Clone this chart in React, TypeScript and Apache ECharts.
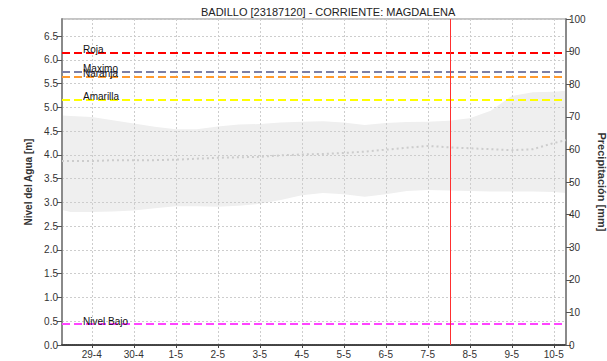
import React, { useEffect, useRef } from "react";
import * as echarts from "echarts";

const title = "BADILLO [23187120] - CORRIENTE: MAGDALENA";
const leftAxisName = "Nivel del Agua [m]";
const rightAxisName = "Precipitación [mm]";

const times = [
  "2024-04-28 07:00", "2024-04-28 12:00", "2024-04-29 00:00", "2024-04-29 12:00",
  "2024-04-30 00:00", "2024-04-30 12:00", "2024-05-01 00:00", "2024-05-01 12:00",
  "2024-05-02 00:00", "2024-05-02 12:00", "2024-05-03 00:00", "2024-05-03 12:00",
  "2024-05-04 00:00", "2024-05-04 12:00", "2024-05-05 00:00", "2024-05-05 12:00",
  "2024-05-06 00:00", "2024-05-06 12:00", "2024-05-07 00:00", "2024-05-07 12:00",
  "2024-05-08 00:00", "2024-05-08 12:00", "2024-05-09 00:00", "2024-05-09 12:00",
  "2024-05-10 00:00", "2024-05-10 07:00",
];

const bandUpper = [
  4.83, 4.82, 4.8, 4.73, 4.66, 4.59, 4.54, 4.54, 4.6, 4.64, 4.65, 4.68, 4.7,
  4.71, 4.68, 4.63, 4.67, 4.69, 4.7, 4.72, 4.77, 4.93, 5.24, 5.32, 5.33, 5.35,
];
const bandLower = [
  2.84, 2.8, 2.8, 2.81, 2.83, 2.88, 2.92, 2.92, 2.91, 2.93, 2.97, 3.05, 3.15,
  3.2, 3.17, 3.12, 3.17, 3.24, 3.26, 3.25, 3.24, 3.23, 3.23, 3.23, 3.22, 3.2,
];
const meanLevel = [
  3.87, 3.87, 3.87, 3.89, 3.89, 3.89, 3.9, 3.92, 3.94, 3.95, 3.96, 3.99, 4.01,
  4.02, 4.04, 4.07, 4.11, 4.15, 4.19, 4.16, 4.14, 4.12, 4.1, 4.12, 4.25, 4.31,
];

const thresholdNames = ["Roja", "Maximo", "Naranja", "Amarilla", "Nivel Bajo"];
const thresholdValues = [6.15, 5.76, 5.64, 5.16, 0.44];
const thresholdColors = ["#ff0000", "#7b7fa6", "#ff9a2e", "#ffff00", "#ff44ff"];

const xMin = "2024-04-28 07:00";
const xMax = "2024-05-10 07:00";
const nowTime = "2024-05-07 13:00";

const FONT = "'Liberation Sans', Arial, sans-serif";

export default function App() {
  const ref = useRef<HTMLDivElement>(null);
  useEffect(() => {
    if (!ref.current) return;
    const chart = echarts.init(ref.current, null, { renderer: "svg" });
    const lowerData = times.map((t, i) => [t, bandLower[i]]);
    const diffData = times.map((t, i) => [t, +(bandUpper[i] - bandLower[i]).toFixed(3)]);
    const meanData = times.map((t, i) => [t, meanLevel[i]]);

    const markData: any[] = thresholdNames.map((n, i) => ({
      name: n,
      yAxis: thresholdValues[i],
      lineStyle: { color: thresholdColors[i], type: [8, 4], width: 2 },
    }));
    markData.push({
      name: "",
      xAxis: nowTime,
      lineStyle: { color: "#ff3030", type: "solid", width: 1 },
      label: { show: false },
    });

    chart.setOption({
      animation: false,
      textStyle: { fontFamily: FONT },
      title: {
        text: title,
        left: 196,
        top: 1,
        textStyle: { fontSize: 11, fontWeight: "normal", color: "#222", fontFamily: FONT },
      },
      grid: {
        left: 62,
        right: 41,
        top: 19,
        bottom: 16,
        show: true,
        borderColor: "#8a8a8a",
        borderWidth: 1,
        outerBoundsMode: "none",
      },
      xAxis: {
        type: "time",
        min: xMin,
        max: xMax,
        minInterval: 86400000,
        maxInterval: 86400000,
        z: 2,
        axisLine: { show: true, lineStyle: { color: "#444", width: 2, type: [1, 1] } },
        axisTick: { show: true, length: 3, lineStyle: { color: "#444" } },
        axisLabel: {
          fontSize: 10,
          color: "#333",
          margin: 4,
          showMinLabel: false,
          showMaxLabel: false,
          hideOverlap: false,
          formatter: (v: number) => {
            const d = new Date(v);
            return d.getDate() + "-" + (d.getMonth() + 1);
          },
        },
        splitLine: { show: true, lineStyle: { color: "#cdcdcd", type: [2, 2], width: 1 } },
      },
      yAxis: [
        {
          type: "value",
          min: 0,
          max: 6.86,
          interval: 0.5,
          z: 2,
          name: leftAxisName,
          nameLocation: "middle",
          nameRotate: 90,
          nameGap: 24,
          nameTextStyle: { fontSize: 10, fontWeight: "bold", color: "#333", fontFamily: FONT },
          axisLine: { show: true, lineStyle: { color: "#8a8a8a", width: 2 } },
          axisTick: { show: true, length: 5, lineStyle: { color: "#555" } },
          axisLabel: {
            fontSize: 10,
            color: "#333",
            margin: 4,
            showMaxLabel: false,
            formatter: (v: number) => v.toFixed(1),
          },
          splitLine: { show: true, lineStyle: { color: "#cdcdcd", type: [2, 2], width: 1 } },
        },
        {
          type: "value",
          min: 0,
          max: 100,
          interval: 10,
          position: "right",
          z: 2,
          name: rightAxisName,
          nameLocation: "middle",
          nameRotate: -90,
          nameGap: 26,
          nameTextStyle: { fontSize: 11, fontWeight: "bold", color: "#333", fontFamily: FONT },
          axisLine: { show: true, lineStyle: { color: "#8a8a8a", width: 2 } },
          axisTick: { show: true, length: 5, lineStyle: { color: "#555" } },
          axisLabel: { fontSize: 10, color: "#333", margin: 3 },
          splitLine: { show: false },
        },
      ],
      series: [
        {
          type: "line",
          name: "base",
          data: lowerData,
          stack: "band",
          symbol: "none",
          lineStyle: { opacity: 0 },
          z: 1,
          silent: true,
        },
        {
          type: "line",
          name: "rango",
          data: diffData,
          stack: "band",
          symbol: "none",
          lineStyle: { opacity: 0 },
          areaStyle: { color: "#efefef", opacity: 1 },
          z: 1,
          silent: true,
        },
        {
          type: "line",
          name: "media",
          data: meanData,
          symbol: "none",
          z: 3,
          silent: true,
          lineStyle: { color: "#cccccc", width: 2, type: [2, 3] },
          markLine: {
            silent: true,
            symbol: ["none", "none"],
            animation: false,
            label: {
              show: true,
              position: "insideStartTop",
              formatter: "{b}",
              color: "#111",
              fontSize: 10,
              fontFamily: FONT,
              distance: [21, -2],
            },
            data: markData,
          },
        },
      ],
    });
    return () => chart.dispose();
  }, []);
  return (
    <div
      ref={ref}
      style={{ position: "fixed", left: 0, top: 0, width: 607, height: 361, background: "#fff" }}
    />
  );
}
